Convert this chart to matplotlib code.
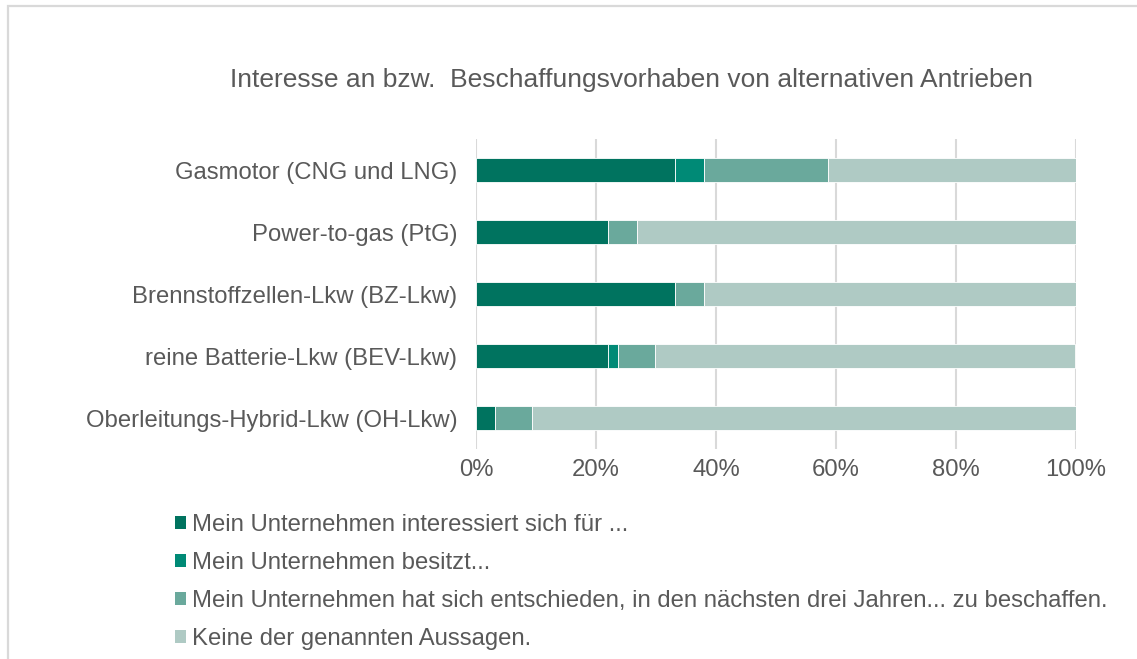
import matplotlib
matplotlib.use("Agg")
import matplotlib.pyplot as plt
from matplotlib.patches import Rectangle, Patch
import numpy as np

plt.rcParams['font.family'] = ['Liberation Sans', 'DejaVu Sans']

title = "Interesse an bzw.  Beschaffungsvorhaben von alternativen Antrieben"
categories = [
    "Gasmotor (CNG und LNG)",
    "Power-to-gas (PtG)",
    "Brennstoffzellen-Lkw (BZ-Lkw)",
    "reine Batterie-Lkw (BEV-Lkw)",
    "Oberleitungs-Hybrid-Lkw (OH-Lkw)",
]
series_names = [
    "Mein Unternehmen interessiert sich für ...",
    "Mein Unternehmen besitzt...",
    "Mein Unternehmen hat sich entschieden, in den nächsten drei Jahren... zu beschaffen.",
    "Keine der genannten Aussagen.",
]
interessiert = [33.1, 22.0, 33.1, 22.0, 3.2]
besitzt      = [4.9, 0.0, 0.0, 1.7, 0.0]
entschieden  = [20.6, 4.9, 4.9, 6.2, 6.1]
keine        = [41.4, 73.1, 62.0, 69.9, 90.7]
xticks = [0, 20, 40, 60, 80, 100]
xtick_labels = ["0%", "20%", "40%", "60%", "80%", "100%"]

colors = ["#00735F", "#008A76", "#6AA99C", "#AFCAC4"]
text_color = "#595959"
fs = 17.2

W, H = 1137, 659
fig = plt.figure(figsize=(W / 100, H / 100), dpi=100)

# outer frame (left and top edges visible)
fig.patches.append(Rectangle((8 / W, -0.05), 1.2, 1 - 6 / H + 0.05,
                             transform=fig.transFigure, fill=False,
                             edgecolor="#D9D9D9", linewidth=1.6))

ax_left, ax_right = 476, 1076
ax_top, ax_bottom = 139, 449
ax = fig.add_axes([ax_left / W, 1 - ax_bottom / H, (ax_right - ax_left) / W,
                   (ax_bottom - ax_top) / H])

y = np.arange(len(categories))
data = [interessiert, besitzt, entschieden, keine]
left = np.zeros(len(categories))
for vals, c, name in zip(data, colors, series_names):
    ax.barh(y, vals, left=left, height=0.4, color=c, label=name,
            edgecolor="white", linewidth=0.6, zorder=3)
    left += np.array(vals)

ax.set_xlim(0, 100)
ax.set_ylim(len(categories) - 0.5, -0.5)
ax.set_yticks(y)
ax.set_yticklabels(categories, fontsize=fs, color=text_color)
ax.set_xticks(xticks)
ax.set_xticklabels(xtick_labels, fontsize=fs, color=text_color)
ax.tick_params(length=0, pad=13.5, axis='y')
ax.tick_params(length=0, pad=7, axis='x')
ax.grid(axis='x', color="#D9D9D9", linewidth=1.5, zorder=0)
for s in ax.spines.values():
    s.set_visible(False)

fig.text(632 / W, 1 - 80 / H, title, ha="center", va="center",
         fontsize=19, color=text_color)

handles = [Patch(facecolor=c, edgecolor="none") for c in colors]
fig.legend(handles, series_names, loc="upper left",
           bbox_to_anchor=(175 / W, 1 - 514 / H), frameon=False,
           fontsize=fs, labelcolor=text_color, handlelength=0.45,
           handleheight=0.45, handletextpad=0.25, labelspacing=0.675,
           borderaxespad=0, borderpad=0)

fig.savefig("out.png", dpi=100)
